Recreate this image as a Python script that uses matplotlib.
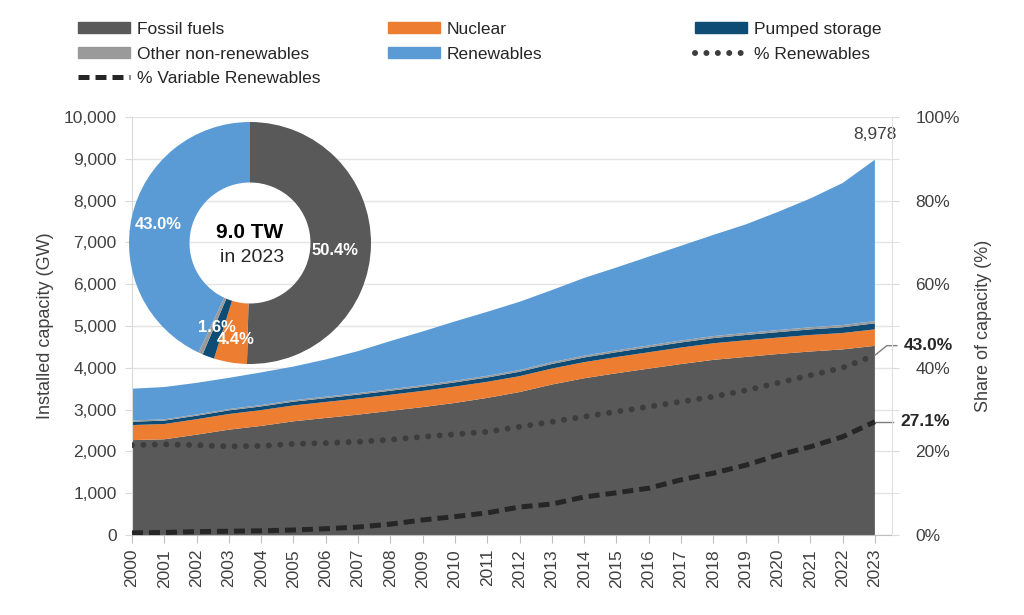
import matplotlib
matplotlib.use('Agg')
import matplotlib.pyplot as plt
from matplotlib.patches import Patch
from matplotlib.lines import Line2D
from matplotlib.ticker import FuncFormatter, MultipleLocator

plt.rcParams['font.family'] = ['Liberation Sans', 'DejaVu Sans']

# data (GW)
years = list(range(2000, 2024))
fossil = [2270, 2290, 2400, 2520, 2610, 2720, 2800, 2880, 2970, 3060, 3160, 3280,
          3420, 3600, 3750, 3870, 3980, 4090, 4190, 4260, 4330, 4390, 4440, 4525]
nuclear = [360, 365, 370, 375, 378, 380, 382, 385, 385, 388, 392, 385,
           380, 382, 385, 388, 392, 395, 397, 398, 393, 395, 392, 395]
pumped = [80, 82, 84, 86, 88, 90, 92, 94, 96, 98, 100, 103,
          106, 109, 112, 115, 118, 121, 124, 127, 130, 134, 138, 144]
other = [30, 30, 31, 32, 33, 34, 35, 36, 37, 38, 39, 40,
         41, 42, 43, 44, 45, 46, 47, 48, 49, 50, 52, 54]
renewables = [760, 773, 755, 747, 781, 806, 891, 1005, 1152, 1286, 1419, 1532,
              1633, 1727, 1860, 1983, 2125, 2268, 2422, 2597, 2828, 3081, 3398, 3860]

# shares (%)
pct_ren = [21.5, 21.7, 21.5, 21.2, 21.3, 21.8, 22.0, 22.3, 22.8, 23.5, 24.1, 24.7,
           25.9, 27.1, 28.3, 29.5, 30.7, 31.9, 33.1, 34.6, 36.4, 38.2, 40.0, 43.0]
pct_var = [0.5, 0.6, 0.8, 0.9, 1.0, 1.2, 1.5, 1.9, 2.6, 3.6, 4.4, 5.3,
           6.7, 7.4, 9.1, 10.1, 11.2, 13.2, 14.8, 16.7, 19.1, 21.1, 23.5, 27.1]

# 2023 donut
donut_labels = ['Fossil fuels', 'Nuclear', 'Pumped storage', 'Other non-renewables', 'Renewables']
donut_vals = [50.4, 4.4, 1.6, 0.6, 43.0]

c_fossil = '#595959'
c_nuc = '#ED7D31'
c_ps = '#0F4C75'
c_oth = '#9A9A9A'
c_ren = '#5B9BD5'
txt = '#404040'

fig = plt.figure(figsize=(10.24, 6.15), dpi=100)
ax = fig.add_axes([132/1024, 80/615, 760/1024, 418/615])

ax.stackplot(years, fossil, nuclear, pumped, other, renewables,
             colors=[c_fossil, c_nuc, c_ps, c_oth, c_ren], linewidth=0)
ax.set_xlim(2000, 2023.53)
ax.set_ylim(0, 10000)
ax.set_yticks(range(0, 10001, 1000))
ax.yaxis.set_major_formatter(FuncFormatter(lambda v, p: f'{int(v):,}'))
ax.grid(axis='y', color='#e4e4e4', lw=1)
ax.set_axisbelow(True)
ax.set_xticks(years)
ax.set_xticklabels([str(y) for y in years], rotation=90)
ax.tick_params(axis='x', length=6, color='#bfbfbf', labelsize=12.5, labelcolor=txt, pad=4)
ax.tick_params(axis='y', length=5, color='#d9d9d9', labelsize=12.5, labelcolor=txt, pad=6)
for s in ['top', 'right']:
    ax.spines[s].set_visible(False)
ax.spines['left'].set_color('#d9d9d9')
ax.spines['bottom'].set_color('#bfbfbf')
ax.set_ylabel('Installed capacity (GW)', fontsize=13, color=txt)
ax.yaxis.set_label_coords(-0.103, 0.5)

ax.text(2023, 9570, f'{sum(v[-1] for v in [fossil, nuclear, pumped, other, renewables]):,}',
        ha='center', va='center', fontsize=12.5, color=txt)

ax2 = ax.twinx()
ax2.set_ylim(0, 100)
ax2.plot(years, pct_ren, ls=(0, (0.01, 1.9)), lw=4.3, color='#3d3d3d',
         dash_capstyle='round')
ax2.plot(years, pct_var, ls=(0, (2.2, 1.2)), lw=3.6, color='#262626')
ax2.yaxis.set_major_locator(MultipleLocator(20))
ax2.yaxis.set_minor_locator(MultipleLocator(10))
ax2.yaxis.set_major_formatter(FuncFormatter(lambda v, p: f'{v:.0f}%'))
ax2.tick_params(axis='y', which='both', length=5, color='#d9d9d9', labelsize=12.5,
                labelcolor=txt, pad=12)
for s in ['top', 'left', 'bottom']:
    ax2.spines[s].set_visible(False)
ax2.spines['right'].set_color('#e0e0e0')
ax2.set_ylabel('Share of capacity (%)', fontsize=13, color=txt)
ax2.yaxis.set_label_coords(1.109, 0.5)

# end labels
ax2.plot([2023, 2023.37, 2023.68], [pct_ren[-1], 45.3, 45.3], color='#7f7f7f', lw=1, clip_on=False)
ax2.text(2023.9, 45.3, f'{pct_ren[-1]:.1f}%', ha='left', va='center', fontsize=12.5,
         fontweight='bold', color='#262626')
ax2.plot([2023, 2023.55], [pct_var[-1], pct_var[-1]], color='#7f7f7f', lw=1, clip_on=False)
ax2.text(2023.78, pct_var[-1], f'{pct_var[-1]:.1f}%', ha='left', va='center', fontsize=12.5,
         fontweight='bold', color='#262626')

# donut
dax = fig.add_axes([129/1024, (615-364)/615, 242/1024, 242/615])
dax.pie(donut_vals, colors=[c_fossil, c_nuc, c_ps, c_oth, c_ren], startangle=90,
        counterclock=False, wedgeprops=dict(width=0.5, linewidth=0))
dax.set_xlim(-1, 1)
dax.set_ylim(-1, 1)
dax.set_aspect('equal')
dax.axis('off')
dax.text(0.70, -0.06, f'{donut_vals[0]}%', ha='center', va='center', color='white',
         fontsize=12, fontweight='bold')
dax.text(-0.76, 0.15, f'{donut_vals[4]}%', ha='center', va='center', color='white',
         fontsize=12, fontweight='bold')
dax.text(-0.27, -0.70, f'{donut_vals[2]}%', ha='center', va='center', color='white',
         fontsize=12, fontweight='bold')
dax.text(-0.12, -0.80, f'{donut_vals[1]}%', ha='center', va='center', color='white',
         fontsize=12, fontweight='bold')
dax.text(0, 0.09, '9.0 TW', ha='center', va='center', color='black', fontsize=15,
         fontweight='bold')
dax.text(0.02, -0.12, 'in 2023', ha='center', va='center', color='#262626', fontsize=14)

# legend, three columns
kw = dict(loc='upper left', frameon=False, fontsize=12.5, handlelength=3.0,
          handleheight=0.6, handletextpad=0.4, labelspacing=0.55,
          borderpad=0, borderaxespad=0, labelcolor='#262626')
h_fossil = Patch(color=c_fossil, label='Fossil fuels')
h_oth = Patch(color=c_oth, label='Other non-renewables')
h_var = Line2D([], [], ls=(0, (2.2, 1.2)), lw=3.6, color='#262626', label='% Variable Renewables')
h_nuc = Patch(color=c_nuc, label='Nuclear')
h_ren = Patch(color=c_ren, label='Renewables')
h_ps = Patch(color=c_ps, label='Pumped storage')
h_pren = Line2D([], [], ls=(0, (0.01, 1.9)), lw=4.3, color='#3d3d3d',
                dash_capstyle='round', label='% Renewables')
top = 1 - 22/615
fig.legend(handles=[h_fossil, h_oth, h_var], bbox_to_anchor=(78/1024, top), **kw)
fig.legend(handles=[h_nuc, h_ren], bbox_to_anchor=(388/1024, top), **kw)
fig.legend(handles=[h_ps, h_pren], bbox_to_anchor=(695/1024, top), **kw)

fig.savefig('out.png', dpi=100)
